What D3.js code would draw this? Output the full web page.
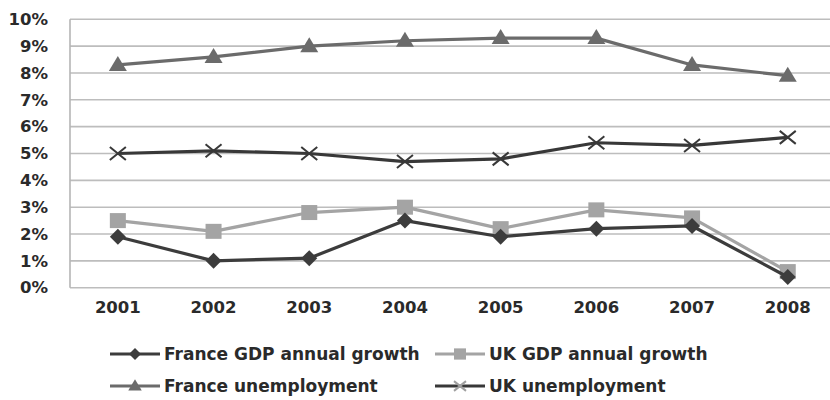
<!DOCTYPE html>
<html>
<head>
<meta charset="utf-8">
<script src="https://cdn.jsdelivr.net/npm/d3@7"></script>
<style>
  body { margin: 0; background: #fff; }
  svg { display: block; }
  text { font-family: 'DejaVu Sans', sans-serif; font-weight: bold; fill: #2a2a2a; }
</style>
</head>
<body>
<div id="chart"></div>
<script>
// data
const years = ['2001', '2002', '2003', '2004', '2005', '2006', '2007', '2008'];
const franceGdp = [1.9, 1.0, 1.1, 2.5, 1.9, 2.2, 2.3, 0.4];
const ukGdp = [2.5, 2.1, 2.8, 3.0, 2.2, 2.9, 2.6, 0.6];
const franceUnemp = [8.3, 8.6, 9.0, 9.2, 9.3, 9.3, 8.3, 7.9];
const ukUnemp = [5.0, 5.1, 5.0, 4.7, 4.8, 5.4, 5.3, 5.6];
const yTicks = [0, 1, 2, 3, 4, 5, 6, 7, 8, 9, 10];

const series = [
  { name: 'France GDP annual growth', values: franceGdp, color: '#3c3c3c', marker: 'diamond' },
  { name: 'UK GDP annual growth', values: ukGdp, color: '#a4a4a4', marker: 'square' },
  { name: 'France unemployment', values: franceUnemp, color: '#6b6b6b', marker: 'triangle' },
  { name: 'UK unemployment', values: ukUnemp, color: '#383838', marker: 'cross' }
];

const W = 830, H = 400;
const margin = {top: 19.3, left: 70};
const plotBottom = 287.7;

const svg = d3.select('#chart').append('svg')
  .attr('width', W)
  .attr('height', H);

const x = d3.scaleBand().domain(years).range([margin.left, margin.left + 8 * 95.7]);
const y = d3.scaleLinear().domain([0, 10]).range([plotBottom, margin.top]);
const cx = d => x(d) + x.bandwidth() / 2;

// gridlines
svg.append('g')
  .selectAll('line')
  .data(yTicks)
  .join('line')
  .attr('x1', margin.left)
  .attr('x2', W)
  .attr('y1', d => y(d))
  .attr('y2', d => y(d))
  .attr('stroke', '#bdbdbd')
  .attr('stroke-width', 1.6);

// left border
svg.append('line')
  .attr('x1', margin.left).attr('x2', margin.left)
  .attr('y1', y(10)).attr('y2', y(0))
  .attr('stroke', '#b5b5b5')
  .attr('stroke-width', 1.6);

// y axis labels
const yAxis = svg.append('g')
  .attr('transform', `translate(${margin.left}, 0)`)
  .call(d3.axisLeft(y).tickValues(yTicks).tickFormat(d => d + '%').tickSize(0).tickPadding(22));
yAxis.select('.domain').remove();
yAxis.selectAll('text')
  .style('font-family', "'DejaVu Sans', sans-serif")
  .style('font-weight', 'bold')
  .style('font-size', '16.5px')
  .style('fill', '#2a2a2a');

// x axis labels
const xAxis = svg.append('g')
  .attr('transform', `translate(0, ${plotBottom})`)
  .call(d3.axisBottom(x).tickSize(0).tickPadding(14));
xAxis.select('.domain').remove();
xAxis.selectAll('text')
  .style('font-family', "'DejaVu Sans', sans-serif")
  .style('font-weight', 'bold')
  .style('font-size', '16.5px')
  .style('fill', '#2a2a2a');

// marker drawing
function drawMarker(g, type, color, size) {
  const s = size || 1;
  if (type === 'diamond') {
    g.append('path')
      .attr('d', `M0,${-8 * s}L${8 * s},0L0,${8 * s}L${-8 * s},0Z`)
      .attr('fill', color);
  } else if (type === 'square') {
    g.append('rect')
      .attr('x', -8 * s).attr('y', -7.5 * s)
      .attr('width', 16 * s).attr('height', 15 * s)
      .attr('fill', color);
  } else if (type === 'triangle') {
    g.append('path')
      .attr('d', `M0,${-9 * s}L${9 * s},${6 * s}L${-9 * s},${6 * s}Z`)
      .attr('fill', color);
  } else if (type === 'cross') {
    g.append('path')
      .attr('d', `M${-8 * s},${-6.5 * s}L${8 * s},${6.5 * s}M${-8 * s},${6.5 * s}L${8 * s},${-6.5 * s}`)
      .attr('stroke', color)
      .attr('stroke-width', 2)
      .attr('fill', 'none');
  }
}

const line = d3.line()
  .x((d, i) => cx(years[i]))
  .y(d => y(d));

// draw series, unemployment first so GDP sits on top like the reference
const drawOrder = [2, 3, 1, 0];
drawOrder.forEach(k => {
  const s = series[k];
  const g = svg.append('g');
  g.append('path')
    .attr('d', line(s.values))
    .attr('fill', 'none')
    .attr('stroke', s.color)
    .attr('stroke-width', 3.2)
    .attr('stroke-linejoin', 'round');
  s.values.forEach((v, i) => {
    const m = g.append('g').attr('transform', `translate(${cx(years[i])}, ${y(v)})`);
    drawMarker(m, s.marker, s.color);
  });
});

// legend
const legendPos = [
  {x: 110, y: 354},
  {x: 435, y: 354},
  {x: 110, y: 386},
  {x: 435, y: 386}
];
series.forEach((s, k) => {
  const p = legendPos[k];
  const g = svg.append('g').attr('transform', `translate(${p.x}, ${p.y})`);
  g.append('line')
    .attr('x1', 0).attr('x2', 50)
    .attr('stroke', s.color)
    .attr('stroke-width', 3.2);
  const m = g.append('g').attr('transform', 'translate(25, 0)');
  const col = s.marker === 'cross' ? '#a0a0a0' : s.color;
  drawMarker(m, s.marker, col, 0.75);
  g.append('text')
    .attr('x', 54)
    .attr('dy', '0.35em')
    .style('font-size', '17px')
    .text(s.name);
});
</script>
</body>
</html>
